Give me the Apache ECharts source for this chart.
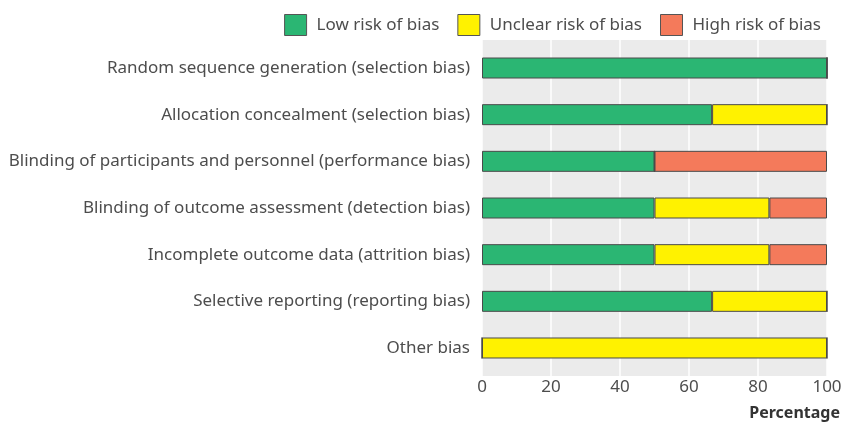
<!DOCTYPE html>
<html><head><meta charset="utf-8">
<script src="https://cdn.jsdelivr.net/npm/echarts@6/dist/echarts.min.js"></script>
<style>html,body{margin:0;padding:0;background:#fff}#c{width:845px;height:423px}</style>
</head><body><div id="c"></div>
<script>
const categories = [
  'Random sequence generation (selection bias)',
  'Allocation concealment (selection bias)',
  'Blinding of participants and personnel (performance bias)',
  'Blinding of outcome assessment (detection bias)',
  'Incomplete outcome data (attrition bias)',
  'Selective reporting (reporting bias)',
  'Other bias'
];
const lowRisk = [100, 66.7, 50, 50, 50, 66.7, 0];
const unclearRisk = [0, 33.3, 0, 33.3, 33.3, 33.3, 100];
const highRisk = [0, 0, 50, 16.7, 16.7, 0, 0];
const xTicks = [0, 20, 40, 60, 80, 100];

const FONT = 'Noto Sans';
const chart = echarts.init(document.getElementById('c'), null, {renderer: 'canvas'});
function mk(name, data, color) {
  return {
    name, type: 'bar', stack: 'total', data, xAxisIndex: 1, yAxisIndex: 1,
    barWidth: 21,
    itemStyle: {color, borderColor: '#4a4a4a', borderWidth: 1},
    emphasis: {disabled: true}
  };
}
chart.setOption({
  animation: false,
  textStyle: {fontFamily: FONT},
  legend: {
    top: 9, right: 19, itemWidth: 22, itemHeight: 21, itemGap: 18, icon: 'rect',
    itemStyle: {borderColor: '#555', borderWidth: 1},
    textStyle: {fontFamily: FONT, fontSize: 17, color: '#4d4d4d', padding: [0, 0, 0, 5]},
    data: ['Low risk of bias', 'Unclear risk of bias', 'High risk of bias']
  },
  grid: [
    {left: 482, right: 18, top: 40, bottom: 47, show: true, backgroundColor: '#ebebeb', borderWidth: 0, containLabel: false},
    {left: 482, right: 18, top: 44.67, bottom: 51.67, show: false, containLabel: false}
  ],
  xAxis: [
    {
      gridIndex: 0, type: 'value', min: xTicks[0], max: xTicks[xTicks.length - 1], interval: 20,
      axisLine: {show: false}, axisTick: {show: false},
      splitLine: {show: true, lineStyle: {color: '#ffffff', width: 1.5}},
      axisLabel: {fontFamily: FONT, fontSize: 17, color: '#4d4d4d', margin: 3},
      name: 'Percentage', nameLocation: 'end', nameGap: 13,
      nameTextStyle: {fontFamily: FONT, fontSize: 16, fontWeight: 'bold', color: '#333', align: 'right', verticalAlign: 'top', padding: [29, 0, 0, 0]}
    },
    {gridIndex: 1, type: 'value', min: 0, max: 100, show: false}
  ],
  yAxis: [
    {gridIndex: 0, type: 'value', show: false},
    {
      gridIndex: 1, type: 'category', data: categories, inverse: true,
      axisLine: {show: false}, axisTick: {show: false}, splitLine: {show: false},
      axisLabel: {fontFamily: FONT, fontSize: 17, color: '#4d4d4d', margin: 12}
    }
  ],
  series: [
    mk('Low risk of bias', lowRisk, '#2bb673'),
    mk('Unclear risk of bias', unclearRisk, '#fff200'),
    mk('High risk of bias', highRisk, '#f47a5b')
  ]
});
</script></body></html>
